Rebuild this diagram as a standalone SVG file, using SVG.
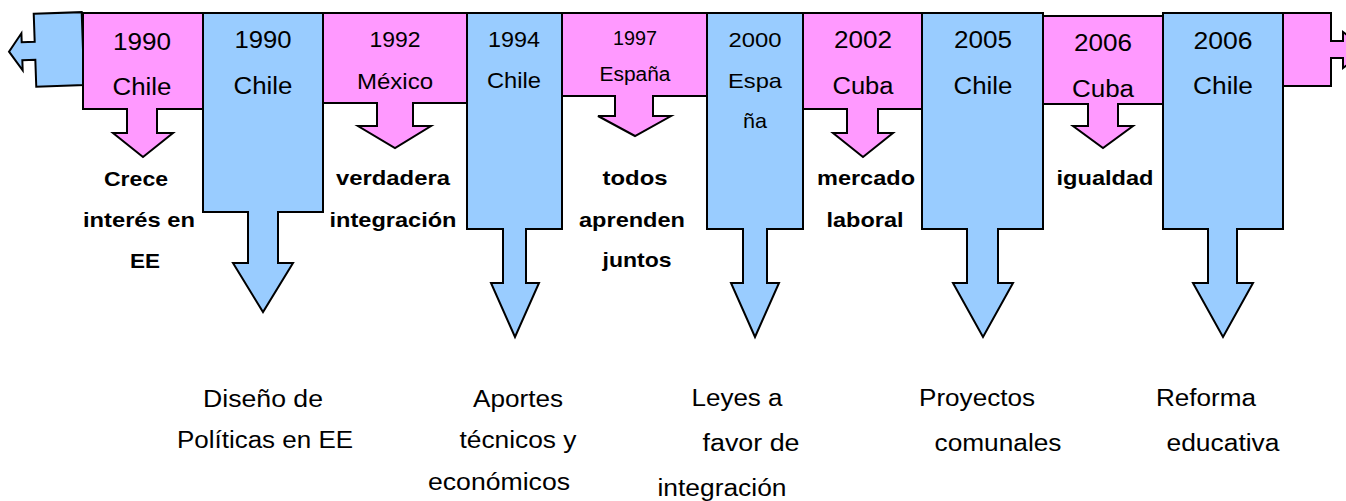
<svg xmlns="http://www.w3.org/2000/svg" width="1346" height="501" viewBox="0 0 1346 501">
<style>
.p{fill:#FF99FF;stroke:#000;stroke-width:2;stroke-linejoin:miter}
.b{fill:#99CCFF;stroke:#000;stroke-width:2;stroke-linejoin:miter}
text{font-family:"Liberation Sans",Arial,sans-serif;fill:#000;text-anchor:middle}
.t23{font-size:23px}
.t22{font-size:22px}
.t21{font-size:21px}
.t20{font-size:20px}
.bd{font-size:21px;font-weight:bold}
.lb{font-size:23px}
</style>
<rect width="1346" height="501" fill="#fff"/>
<g id="left-arrow">
<polygon class="b" transform="rotate(-2 58 50)" points="35,13 83,13 83,86 35,86 35,59 22,59 22,69 9,50 22,32 22,41 35,41"/>
</g>
<g id="n1990a">
<polygon class="p" points="83,13 203,13 203,109 157,109 157,133 173,133 143,157 113,133 127,133 127,109 83,109"/>
<text class="t23" x="142" y="50" textLength="58" lengthAdjust="spacingAndGlyphs">1990</text>
<text class="t23" x="142" y="95" textLength="59" lengthAdjust="spacingAndGlyphs">Chile</text>
<text class="bd" x="136" y="186" textLength="64" lengthAdjust="spacingAndGlyphs">Crece</text>
<text class="bd" x="139" y="227" textLength="112" lengthAdjust="spacingAndGlyphs">interés en</text>
<text class="bd" x="145" y="268" textLength="30" lengthAdjust="spacingAndGlyphs">EE</text>
</g>
<g id="n1992">
<polygon class="p" points="323,13 467,13 467,103 413,103 413,126 431,126 395,148 358,126 377,126 377,103 323,103"/>
<text class="t22" x="395" y="47" textLength="51" lengthAdjust="spacingAndGlyphs">1992</text>
<text class="t22" x="395" y="89" textLength="76" lengthAdjust="spacingAndGlyphs">México</text>
<text class="bd" x="393" y="185" textLength="114" lengthAdjust="spacingAndGlyphs">verdadera</text>
<text class="bd" x="393" y="227" textLength="127" lengthAdjust="spacingAndGlyphs">integración</text>
</g>
<g id="n1997">
<polygon class="p" points="562,13 707,13 707,96 653,96 653,116 671,116 635,136 598,116 615,116 615,96 562,96"/>
<text class="t20" x="635" y="45" textLength="44" lengthAdjust="spacingAndGlyphs">1997</text>
<text class="t20" x="635" y="81" textLength="71" lengthAdjust="spacingAndGlyphs">España</text>
<text class="bd" x="635" y="185" textLength="65" lengthAdjust="spacingAndGlyphs">todos</text>
<text class="bd" x="632" y="227" textLength="106" lengthAdjust="spacingAndGlyphs">aprenden</text>
<text class="bd" x="637" y="267" textLength="69" lengthAdjust="spacingAndGlyphs">juntos</text>
</g>
<g id="n2002">
<polygon class="p" points="803,13 922,13 922,109 878,109 878,133 893,133 863,157 833,133 847,133 847,109 803,109"/>
<text class="t23" x="863" y="48" textLength="58" lengthAdjust="spacingAndGlyphs">2002</text>
<text class="t23" x="863" y="94" textLength="61" lengthAdjust="spacingAndGlyphs">Cuba</text>
<text class="bd" x="866" y="185" textLength="98" lengthAdjust="spacingAndGlyphs">mercado</text>
<text class="bd" x="865" y="227" textLength="77" lengthAdjust="spacingAndGlyphs">laboral</text>
</g>
<g id="n2006a">
<polygon class="p" points="1043,16 1163,16 1163,104 1118,104 1118,126 1133,126 1103,148 1073,126 1088,126 1088,104 1043,104"/>
<text class="t23" x="1103" y="51" textLength="58" lengthAdjust="spacingAndGlyphs">2006</text>
<text class="t23" x="1103" y="97" textLength="62" lengthAdjust="spacingAndGlyphs">Cuba</text>
<text class="bd" x="1105" y="185" textLength="97" lengthAdjust="spacingAndGlyphs">igualdad</text>
</g>
<g id="right-arrow">
<polygon class="p" points="1283,13 1331,13 1331,41 1343,41 1343,32 1367,50 1343,68 1343,58 1331,58 1331,86 1283,86"/>
</g>
<g id="n1990b">
<polygon class="b" points="203,13 323,13 323,212 278,212 278,263 293,263 263,312 233,263 248,263 248,212 203,212"/>
<text class="t23" x="263" y="48" textLength="57" lengthAdjust="spacingAndGlyphs">1990</text>
<text class="t23" x="263" y="94" textLength="59" lengthAdjust="spacingAndGlyphs">Chile</text>
<text class="lb" x="263" y="407" textLength="120" lengthAdjust="spacingAndGlyphs">Diseño de</text>
<text class="lb" x="265" y="448" textLength="176" lengthAdjust="spacingAndGlyphs">Políticas en EE</text>
</g>
<g id="n1994">
<polygon class="b" points="467,13 562,13 562,229 526,229 526,283 539,283 515,337 491,283 503,283 503,229 467,229"/>
<text class="t22" x="514" y="47" textLength="52" lengthAdjust="spacingAndGlyphs">1994</text>
<text class="t22" x="514" y="88" textLength="54" lengthAdjust="spacingAndGlyphs">Chile</text>
<text class="lb" x="518" y="407" textLength="90" lengthAdjust="spacingAndGlyphs">Aportes</text>
<text class="lb" x="518" y="448" textLength="117" lengthAdjust="spacingAndGlyphs">técnicos y</text>
<text class="lb" x="499" y="490" textLength="142" lengthAdjust="spacingAndGlyphs">económicos</text>
</g>
<g id="n2000">
<polygon class="b" points="707,13 803,13 803,229 767,229 767,283 779,283 755,337 731,283 743,283 743,229 707,229"/>
<text class="t21" x="755" y="47" textLength="53" lengthAdjust="spacingAndGlyphs">2000</text>
<text class="t21" x="755" y="88" textLength="54" lengthAdjust="spacingAndGlyphs">Espa</text>
<text class="t21" x="755" y="128" textLength="24" lengthAdjust="spacingAndGlyphs">ña</text>
<text class="lb" x="737" y="406" textLength="91" lengthAdjust="spacingAndGlyphs">Leyes a</text>
<text class="lb" x="751" y="451" textLength="97" lengthAdjust="spacingAndGlyphs">favor de</text>
<text class="lb" x="722" y="496" textLength="129" lengthAdjust="spacingAndGlyphs">integración</text>
</g>
<g id="n2005">
<polygon class="b" points="922,13 1043,13 1043,229 998,229 998,283 1013,283 983,337 953,283 967,283 967,229 922,229"/>
<text class="t23" x="983" y="48" textLength="58" lengthAdjust="spacingAndGlyphs">2005</text>
<text class="t23" x="983" y="94" textLength="59" lengthAdjust="spacingAndGlyphs">Chile</text>
<text class="lb" x="977" y="406" textLength="116" lengthAdjust="spacingAndGlyphs">Proyectos</text>
<text class="lb" x="998" y="451" textLength="127" lengthAdjust="spacingAndGlyphs">comunales</text>
</g>
<g id="n2006b">
<polygon class="b" points="1163,13 1283,13 1283,229 1237,229 1237,283 1253,283 1223,337 1193,283 1208,283 1208,229 1163,229"/>
<text class="t23" x="1223" y="49" textLength="59" lengthAdjust="spacingAndGlyphs">2006</text>
<text class="t23" x="1223" y="94" textLength="60" lengthAdjust="spacingAndGlyphs">Chile</text>
<text class="lb" x="1206" y="406" textLength="100" lengthAdjust="spacingAndGlyphs">Reforma</text>
<text class="lb" x="1223" y="451" textLength="113" lengthAdjust="spacingAndGlyphs">educativa</text>
</g>
<g id="connectors"></g>
</svg>
